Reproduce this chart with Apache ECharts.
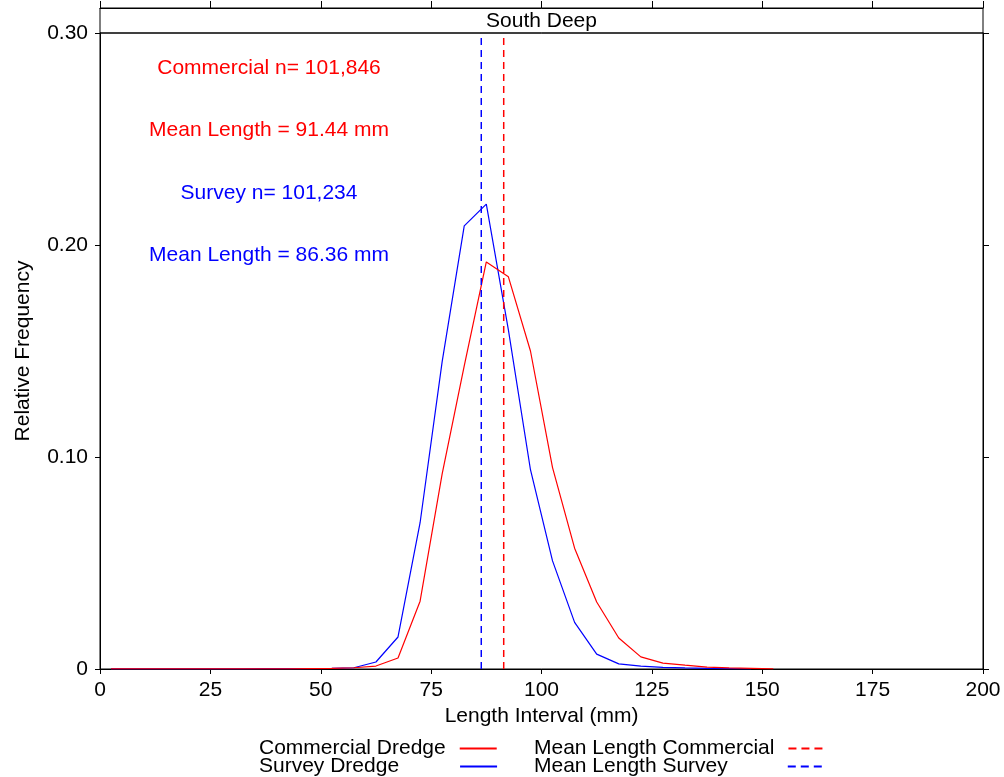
<!DOCTYPE html>
<html>
<head>
<meta charset="utf-8">
<script src="https://cdn.jsdelivr.net/npm/echarts@6/dist/echarts.min.js"></script>
<style>html,body{margin:0;padding:0;background:#fff}#c{width:1004px;height:777px}</style>
</head>
<body>
<div id="c"></div>
<script>
var lengthMid = [2.5,7.5,12.5,17.5,22.5,27.5,32.5,37.5,42.5,47.5,52.5,57.5,62.5,67.5,72.5,77.5,82.5,87.5,92.5,97.5,102.5,107.5,112.5,117.5,122.5,127.5,132.5,137.5,142.5,147.5,152.5];
var commercial = [0.0001,0.0001,0.0001,0.0001,0.0001,0.0001,0.0001,0.0001,0.0001,0.0002,0.0003,0.0006,0.0014,0.0052,0.032,0.092,0.143,0.192,0.185,0.150,0.095,0.057,0.0316,0.0146,0.0057,0.0028,0.0018,0.0009,0.0005,0.0003,0.0001];
var survey = [0.0001,0.0001,0.0001,0.0001,0.0001,0.0001,0.0001,0.0002,0.0002,0.0002,0.0003,0.0006,0.0033,0.0151,0.069,0.145,0.209,0.2193,0.160,0.094,0.051,0.022,0.007,0.0024,0.0014,0.0008,0.0005,0.0003,0.0002,0.0001,null];
var meanCommercial = 91.44;
var meanSurvey = 86.36;
var yTicks = [0, 0.10, 0.20, 0.30];
var annotations = [
  {text: 'Commercial n= 101,846', color: '#ff0000'},
  {text: 'Mean Length = 91.44 mm', color: '#ff0000'},
  {text: 'Survey n= 101,234', color: '#0000ff'},
  {text: 'Mean Length = 86.36 mm', color: '#0000ff'}
];

var FONT = "'Liberation Sans', Arial, sans-serif";
var FS = 21;
var RED = '#ff0000', BLUE = '#0000ff';

function pairs(xs, ys){ var out=[]; for (var i=0;i<xs.length;i++){ if (ys[i]!=null) out.push([xs[i], ys[i]]); } return out; }

var chart = echarts.init(document.getElementById('c'));
var annY = [68, 130, 193, 255];
function lg(name, left, top, padR, w, dashed){
  var o = {orient:'vertical', itemWidth:w, itemHeight:14, align:'right', itemGap:0, padding:0,
    data:[name], left:left, top:top,
    itemStyle:{opacity:0, borderWidth:0},
    textStyle:{fontFamily:FONT, fontSize:FS, color:'#000', padding:[0, padR, 0, 0]}};
  if (dashed) o.lineStyle = {type:[8,5]};
  return o;
}
var option = {
  animation: false,
  backgroundColor: '#fff',
  title: {text: 'South Deep', left: 541.5, textAlign:'center', top: 11, padding: 0,
    textStyle:{fontFamily:FONT, fontSize:FS, fontWeight:'normal', color:'#000'}},
  grid: [
    {left:100, right:21, top:8, height:25, show:true, borderColor:'#000', borderWidth:1},
    {left:100, right:21, top:33, bottom:108, show:true, borderColor:'#000', borderWidth:1}
  ],
  xAxis: [
    {gridIndex:0, type:'value', position:'top', min:0, max:200, interval:25,
     axisLine:{show:true, onZero:false, lineStyle:{color:'#000'}}, axisTick:{show:true, length:7, lineStyle:{color:'#000'}},
     axisLabel:{show:false}, splitLine:{show:false}},
    {gridIndex:1, type:'value', position:'bottom', min:0, max:200, interval:25,
     name:'Length Interval (mm)', nameLocation:'middle', nameGap:25,
     nameTextStyle:{fontFamily:FONT, fontSize:FS, color:'#000'},
     axisLine:{show:true, onZero:false, lineStyle:{color:'#000'}}, axisTick:{show:true, length:5, lineStyle:{color:'#000'}},
     axisLabel:{fontFamily:FONT, fontSize:FS, color:'#000', margin:11}, splitLine:{show:false}}
  ],
  yAxis: [
    {gridIndex:0, type:'value', min:0, max:1, show:false},
    {gridIndex:1, type:'value', position:'left', min:0, max:0.3, interval:0.1,
     name:'Relative Frequency', nameLocation:'middle', nameGap:66, nameRotate:90,
     nameTextStyle:{fontFamily:FONT, fontSize:FS, color:'#000'},
     axisLine:{show:true, onZero:false, lineStyle:{color:'#000'}}, axisTick:{show:true, length:5, lineStyle:{color:'#000'}},
     axisLabel:{fontFamily:FONT, fontSize:FS, color:'#000', margin:12,
       formatter:function(v){ return v===0 ? '0' : v.toFixed(2); }}, splitLine:{show:false}},
    {gridIndex:1, type:'value', position:'right', min:0, max:0.3, interval:0.1,
     axisLine:{show:true, onZero:false, lineStyle:{color:'#000'}}, axisTick:{show:true, length:6, lineStyle:{color:'#000'}},
     axisLabel:{show:false}, splitLine:{show:false}}
  ],
  legend: [
    lg('Commercial Dredge', 259, 738, 9, 37, false),
    lg('Survey Dredge', 259, 756, 56, 37, false),
    lg('Mean Length Commercial', 534, 738, 9, 34, true),
    lg('Mean Length Survey', 534, 756, 55, 34, true)
  ],
  graphic: annotations.map(function(a, i){
    return {type:'text', x:269, y:annY[i], silent:true,
      style:{text:a.text, fill:a.color, font:FS + 'px ' + FONT, textAlign:'center', textVerticalAlign:'middle'}};
  }),
  series: [
    {name:'Survey Dredge', type:'line', xAxisIndex:1, yAxisIndex:1, data:pairs(lengthMid, survey),
     symbol:'none', lineStyle:{color:BLUE, width:1.2}, itemStyle:{color:BLUE}},
    {name:'Commercial Dredge', type:'line', xAxisIndex:1, yAxisIndex:1, data:pairs(lengthMid, commercial),
     symbol:'none', lineStyle:{color:RED, width:1.2}, itemStyle:{color:RED}},
    {name:'Mean Length Commercial', type:'line', xAxisIndex:1, yAxisIndex:1,
     data:[[meanCommercial, 0], [meanCommercial, 0.3]], symbol:'none',
     lineStyle:{color:RED, width:1.5, type:[7,5]}, itemStyle:{color:RED}},
    {name:'Mean Length Survey', type:'line', xAxisIndex:1, yAxisIndex:1,
     data:[[meanSurvey, 0], [meanSurvey, 0.3]], symbol:'none',
     lineStyle:{color:BLUE, width:1.5, type:[7,5]}, itemStyle:{color:BLUE}}
  ]
};
chart.setOption(option);
</script>
</body>
</html>
